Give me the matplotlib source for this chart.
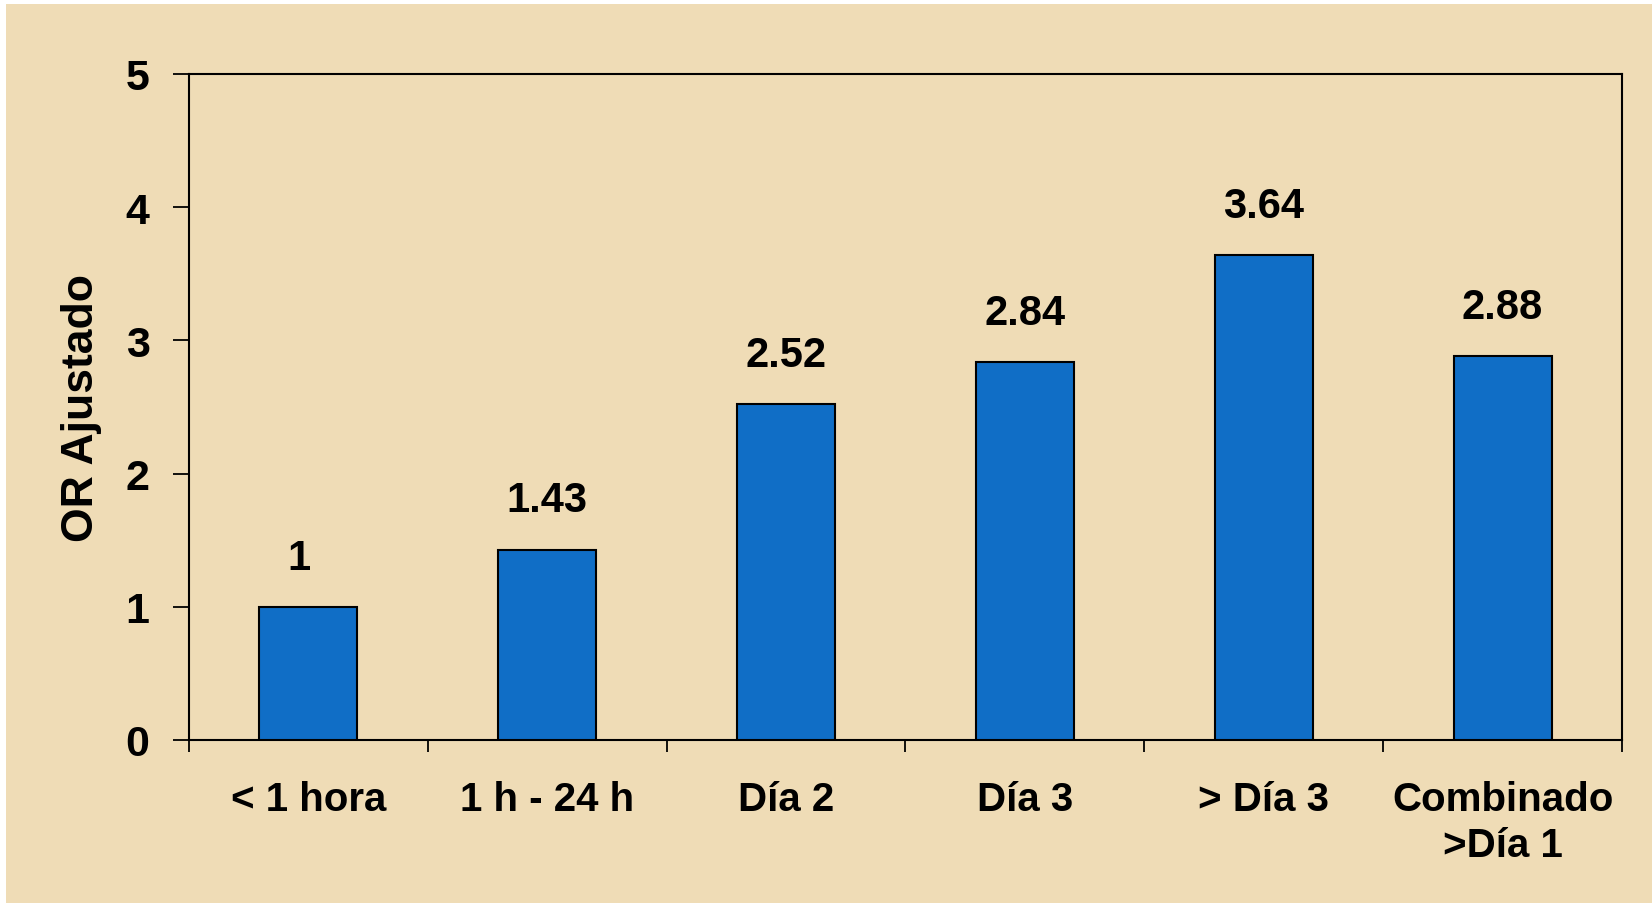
import matplotlib
matplotlib.use("Agg")
import matplotlib.pyplot as plt
import numpy as np
from matplotlib.patches import Rectangle

plt.rcParams["font.family"] = ["Liberation Sans", "DejaVu Sans"]
plt.rcParams["font.weight"] = "bold"

# ---- datos ----
categorias = ["< 1 hora", "1 h - 24 h", "Día 2", "Día 3", "> Día 3", "Combinado\n>Día 1"]
or_ajustado = [1.0, 1.43, 2.52, 2.84, 3.64, 2.88]
etiquetas = ["1", "1.43", "2.52", "2.84", "3.64", "2.88"]
yticks = [0, 1, 2, 3, 4, 5]

BG = "#efdcb6"
BAR = "#106ec6"

fig = plt.figure(figsize=(16.52, 9.04), dpi=100)
fig.patch.set_facecolor("white")
# fondo beige (borde blanco fino arriba/izquierda)
fig.add_artist(Rectangle((6 / 1652, 0), 1, 1 - 5 / 904, transform=fig.transFigure,
                         facecolor=BG, edgecolor="none", zorder=0))

ax = fig.add_axes([189 / 1652, 1 - 741 / 904, (1622 - 189) / 1652, (741 - 75) / 904])
ax.set_facecolor("none")

x = np.arange(len(categorias))
ax.bar(x, or_ajustado, width=0.41, color=BAR, edgecolor="black", linewidth=1.5, zorder=3)
for xi, v, t in zip(x, or_ajustado, etiquetas):
    ax.annotate(t, (xi, v), xytext=(-7 if t == "1" else 0, 21), textcoords="offset points",
                ha="center", va="bottom", fontsize=30, fontweight="bold")

ax.set_xlim(-0.5, len(categorias) - 0.5)
ax.set_ylim(0, 5)
ax.set_yticks(yticks)
ax.set_yticklabels([str(t) for t in yticks], fontsize=31, fontweight="bold")
ax.tick_params(axis="y", direction="out", length=11.5, width=1.3, pad=17)

ax.set_xticks(x)
ax.set_xticklabels(categorias, fontsize=29, fontweight="bold", linespacing=1.25)
ax.tick_params(axis="x", which="major", length=0, pad=29)
ax.set_xticks(np.arange(-0.5, len(categorias)), minor=True)
ax.tick_params(axis="x", which="minor", direction="out", length=8.5, width=1.3)

for s in ax.spines.values():
    s.set_linewidth(1.5)

ax.set_ylabel("OR Ajustado", fontsize=32, fontweight="bold")
ax.yaxis.set_label_coords(-0.061, 0.5)

fig.savefig("out.png", dpi=100, facecolor=fig.get_facecolor())
